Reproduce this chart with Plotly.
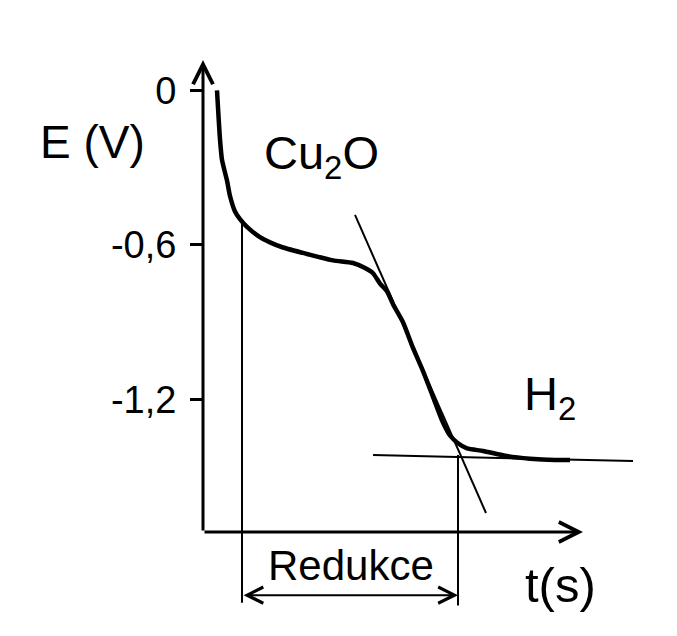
import plotly.graph_objects as go

# curve: t in arbitrary units (s), E in V
t_curve = [1.4, 1.7, 1.9, 2.4, 2.7, 3.2, 3.7, 4.4, 5.7, 6.7, 8.0, 10.4, 13.0, 15.0,
           16.2, 17.0, 17.7, 18.4, 19.0, 20.0, 21.0, 22.0, 23.0, 24.0, 24.7, 25.5,
           26.4, 28.0, 30.4, 32.7, 35.2, 36.7]
E_curve = [0.0, -0.19, -0.27, -0.35, -0.41, -0.47, -0.50, -0.53, -0.57, -0.59, -0.61,
           -0.635, -0.66, -0.67, -0.69, -0.71, -0.75, -0.78, -0.83, -0.90, -1.00, -1.09,
           -1.19, -1.29, -1.34, -1.37, -1.39, -1.40, -1.42, -1.43, -1.435, -1.435]

# construction lines
t_flat = [17.0, 43.0]
E_flat = [-1.416, -1.439]
t_slope = [15.2, 28.3]
E_slope = [-0.483, -1.641]

t_start = 3.9      # start of reduction
t_end = 25.5       # end of reduction
E_start = -0.51
E_end = -1.416

tick_vals = [0, -0.6, -1.2]
tick_text = ["0", "-0,6", "-1,2"]

E_axis = -1.715    # where the t axis is drawn
E_dim = -1.96      # dimension arrow level
E_low = -2.0

FONT = "Liberation Sans, Arial, Helvetica, sans-serif"

fig = go.Figure()
fig.add_trace(go.Scatter(x=t_curve, y=E_curve, mode="lines",
                         line=dict(color="black", width=4.5, shape="spline", smoothing=0.6),
                         hoverinfo="skip"))
fig.add_trace(go.Scatter(x=t_flat, y=E_flat, mode="lines",
                         line=dict(color="black", width=2), hoverinfo="skip"))
fig.add_trace(go.Scatter(x=t_slope, y=E_slope, mode="lines",
                         line=dict(color="black", width=2), hoverinfo="skip"))
fig.add_trace(go.Scatter(x=[t_start, t_start], y=[E_start, E_low + 0.01], mode="lines",
                         line=dict(color="black", width=2), hoverinfo="skip"))
fig.add_trace(go.Scatter(x=[t_end, t_end], y=[E_end, E_low], mode="lines",
                         line=dict(color="black", width=2), hoverinfo="skip"))

# axes with arrows
fig.add_annotation(x=38.0, y=E_axis, ax=0, ay=E_axis, xref="x", yref="y",
                   axref="x", ayref="y", showarrow=True, text="",
                   arrowhead=5, arrowsize=1.3, arrowwidth=3, arrowcolor="black")
fig.add_annotation(x=0, y=0.118, ax=0, ay=E_axis, xref="x", yref="y",
                   axref="x", ayref="y", showarrow=True, text="",
                   arrowhead=5, arrowsize=1.3, arrowwidth=3, arrowcolor="black")
# Redukce dimension arrow
fig.add_annotation(x=t_end, y=E_dim, ax=t_start, ay=E_dim, xref="x", yref="y",
                   axref="x", ayref="y", showarrow=True, text="",
                   arrowhead=5, startarrowhead=5, arrowside="end+start",
                   arrowsize=1.6, startarrowsize=1.6, arrowwidth=2, arrowcolor="black")

def big(size):
    return dict(family=FONT, size=size, color="black")

# axis title sits left of the plot area, so it is placed in paper coordinates
fig.add_annotation(x=-0.252, y=0.838, xref="paper", yref="paper", text="E (V)",
                   showarrow=False, font=big(46), xanchor="center", yanchor="middle")
fig.add_annotation(x=5.9, y=-0.255, text="Cu<sub>2</sub>O", showarrow=False, font=big(47),
                   xanchor="left", yanchor="middle")
fig.add_annotation(x=31.9, y=-1.19, text="H<sub>2</sub>", showarrow=False, font=big(47),
                   xanchor="left", yanchor="middle")
fig.add_annotation(x=14.8, y=-1.845, text="Redukce", showarrow=False, font=big(42),
                   xanchor="center", yanchor="middle")
fig.add_annotation(x=35.7, y=-1.92, text="t(s)", showarrow=False, font=big(49),
                   xanchor="center", yanchor="middle")

fig.update_layout(
    width=661, height=620,
    margin=dict(l=195, r=29, t=42, b=12),
    paper_bgcolor="white", plot_bgcolor="white",
    showlegend=False,
    font=dict(family=FONT, color="black"),
)
fig.update_xaxes(range=[0, 43.7], visible=False)
fig.update_yaxes(range=[-2.041, 0.157], showgrid=False, zeroline=False, showline=False,
                 tickvals=tick_vals, ticktext=tick_text, ticks="outside",
                 ticklen=12, tickwidth=2.5, tickcolor="black",
                 tickfont=dict(family=FONT, size=38, color="black"),
                 ticklabelstandoff=6)

fig.write_html("out.html")
